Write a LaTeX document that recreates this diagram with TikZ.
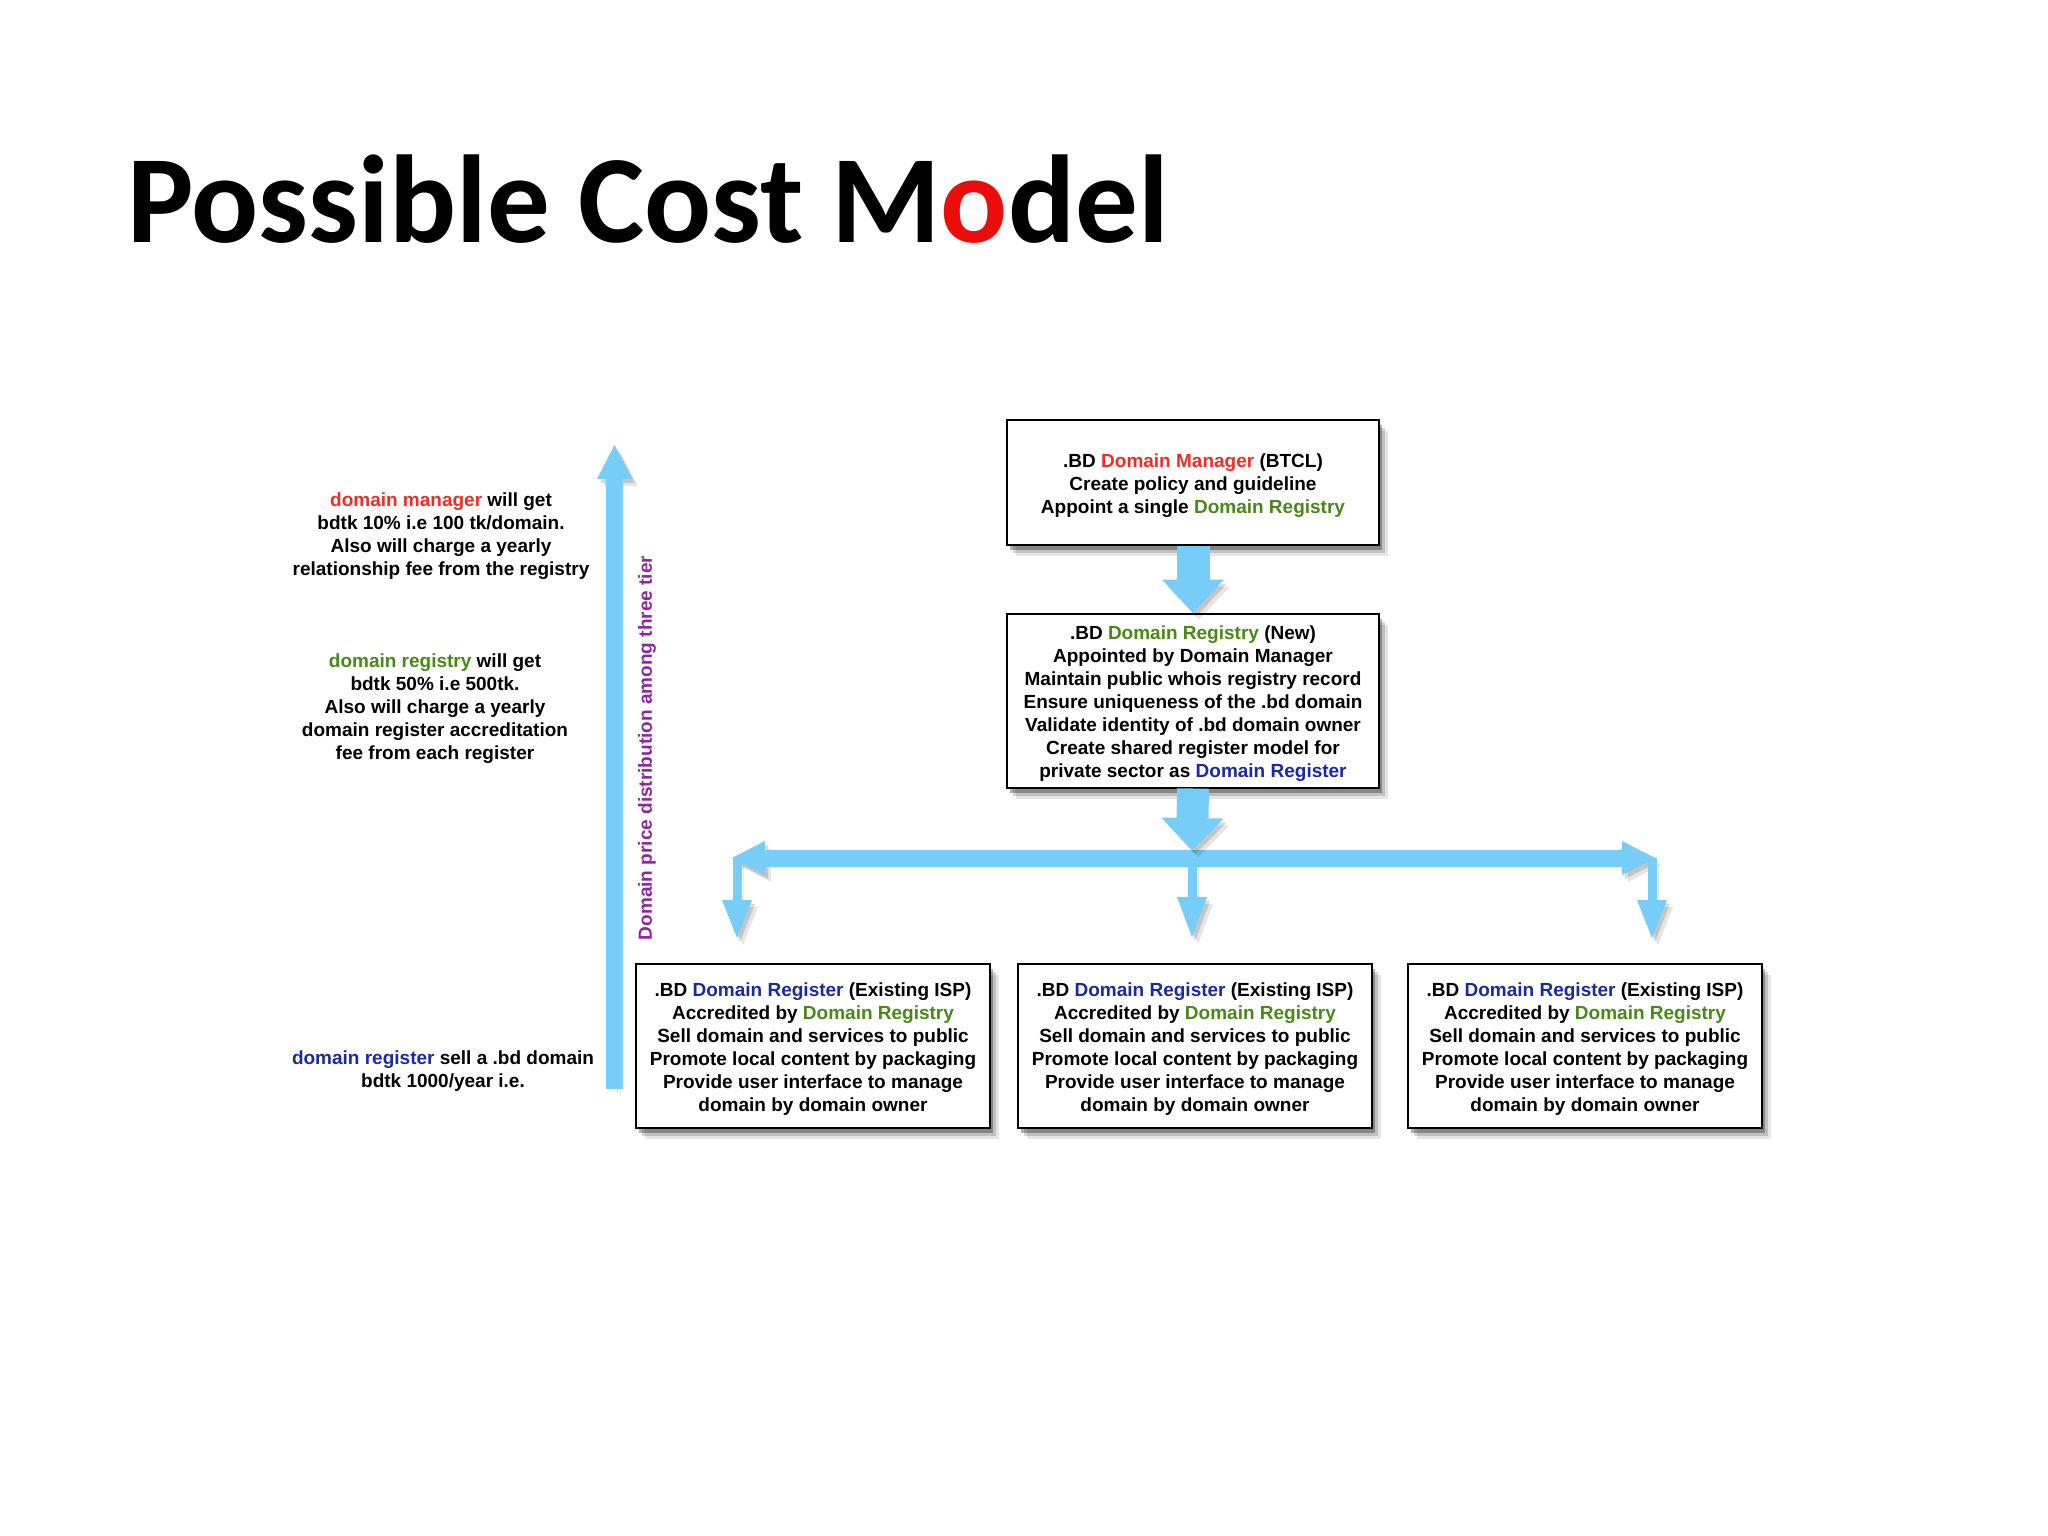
\documentclass[tikz,border=0pt]{standalone}
\usepackage{fontspec}
\setmainfont{Liberation Sans}
\newfontfamily\titlefont{Carlito}
\usetikzlibrary{arrows.meta,shadows}
\definecolor{arrowblue}{RGB}{118,206,248}
\definecolor{mred}{RGB}{232,48,40}
\definecolor{mgreen}{RGB}{74,136,28}
\definecolor{mblue}{RGB}{28,42,160}
\definecolor{mpurple}{RGB}{142,38,160}
\definecolor{tred}{RGB}{235,12,12}
\newcommand\tstrut{\rule{0pt}{20pt}}
\begin{document}
\begin{tikzpicture}[x=1pt,y=-1pt,
  txt/.style={font=\fontsize{19}{23}\selectfont\bfseries},
  box/.style={txt, draw=black, line width=2pt, fill=white, align=center, inner sep=0pt,
    drop shadow={shadow xshift=9pt,shadow yshift=-11pt,opacity=0.10,fill=black},
    drop shadow={shadow xshift=6pt,shadow yshift=-8pt,opacity=0.16,fill=black},
    drop shadow={shadow xshift=3pt,shadow yshift=-5pt,opacity=0.30,fill=black}},
  note/.style={txt, align=center, inner sep=0pt},
  arr/.style={draw=arrowblue,
    preaction={draw=black, opacity=0.10, transform canvas={xshift=6pt,yshift=-7pt}},
    preaction={draw=black, opacity=0.14, transform canvas={xshift=3pt,yshift=-4pt}}},
]
\useasboundingbox[fill=white] (0,0) rectangle (2048,1536);

% title
\node[anchor=base west, inner sep=0pt, font=\titlefont\bfseries\fontsize{125}{125}\selectfont] (title) at (127,242) {Possible Cost M\textcolor{tred}{o}del};

% boxes
\node[box, minimum width=372pt, minimum height=125pt] (m) at (1193,482.5)
  {\tstrut.BD \textcolor{mred}{Domain Manager} (BTCL)\\Create policy and guideline\\Appoint a single \textcolor{mgreen}{Domain Registry}};
\node[box, minimum width=372pt, minimum height=174pt] (r) at (1193,700.5)
  {\tstrut.BD \textcolor{mgreen}{Domain Registry} (New)\\Appointed by Domain Manager\\Maintain public whois registry record\\Ensure uniqueness of the .bd domain\\Validate identity of .bd domain owner\\Create shared register model for\\private sector as \textcolor{mblue}{Domain Register}};
\foreach \n/\x in {ra/813, rb/1195, rc/1585}{
  \node[box, minimum width=354pt, minimum height=164pt] (\n) at (\x,1045.5)
    {\tstrut.BD \textcolor{mblue}{Domain Register} (Existing ISP)\\Accredited by \textcolor{mgreen}{Domain Registry}\\Sell domain and services to public\\Promote local content by packaging\\Provide user interface to manage\\domain by domain owner};
}

% coordinates
\coordinate (hl) at (732,858);
\coordinate (hr) at (1655,858);
\coordinate (hmt) at (1192,850);
\coordinate (hm) at (1192,858);
\coordinate (dl) at (737,858);
\coordinate (dlt) at (737,938);
\coordinate (dmt) at (1192,937);
\coordinate (dr) at (1652,858);
\coordinate (drt) at (1652,938);
\coordinate (ub) at (614.5,1089);
\coordinate (ut) at (614.5,445);

% arrows
\draw[arr, line width=33pt, -{Triangle[width=62pt,length=33pt,line width=0pt]}] (m.south) -- (r.north);
\draw[arr, line width=17pt, {Triangle[width=34pt,length=33pt,line width=0pt]}-{Triangle[width=34pt,length=33pt,line width=0pt]}] (hl) -- (hr);
\draw[arr, line width=9pt, -{Triangle[width=30pt,length=38pt,line width=0pt]}] (dl) -- (dlt);
\draw[arr, line width=9pt, -{Triangle[width=30pt,length=40pt,line width=0pt]}] (hm) -- (dmt);
\draw[arr, line width=9pt, -{Triangle[width=30pt,length=38pt,line width=0pt]}] (dr) -- (drt);
\draw[arr, line width=32pt, -{Triangle[width=62pt,length=32pt,line width=0pt]}] (r.south) -- (hmt);
\draw[arr, line width=17pt, -{Triangle[width=35pt,length=34pt,line width=0pt]}] (ub) -- (ut);

% vertical label
\node[rotate=90, txt, text=mpurple, inner sep=0pt] (vt) at (647,748) {Domain price distribution among three tier};

% notes
\node[note] (n1) at (441,536.5) {\textcolor{mred}{domain manager} will get\\bdtk 10\% i.e 100 tk/domain.\\Also will charge a yearly\\relationship fee from the registry};
\node[note] (n2) at (435,708.5) {\textcolor{mgreen}{domain registry} will get\\bdtk 50\% i.e 500tk.\\Also will charge a yearly\\domain register accreditation\\fee from each register};
\node[note] (n3) at (443,1071) {\textcolor{mblue}{domain register} sell a .bd domain\\bdtk 1000/year i.e.};
\end{tikzpicture}
\end{document}
